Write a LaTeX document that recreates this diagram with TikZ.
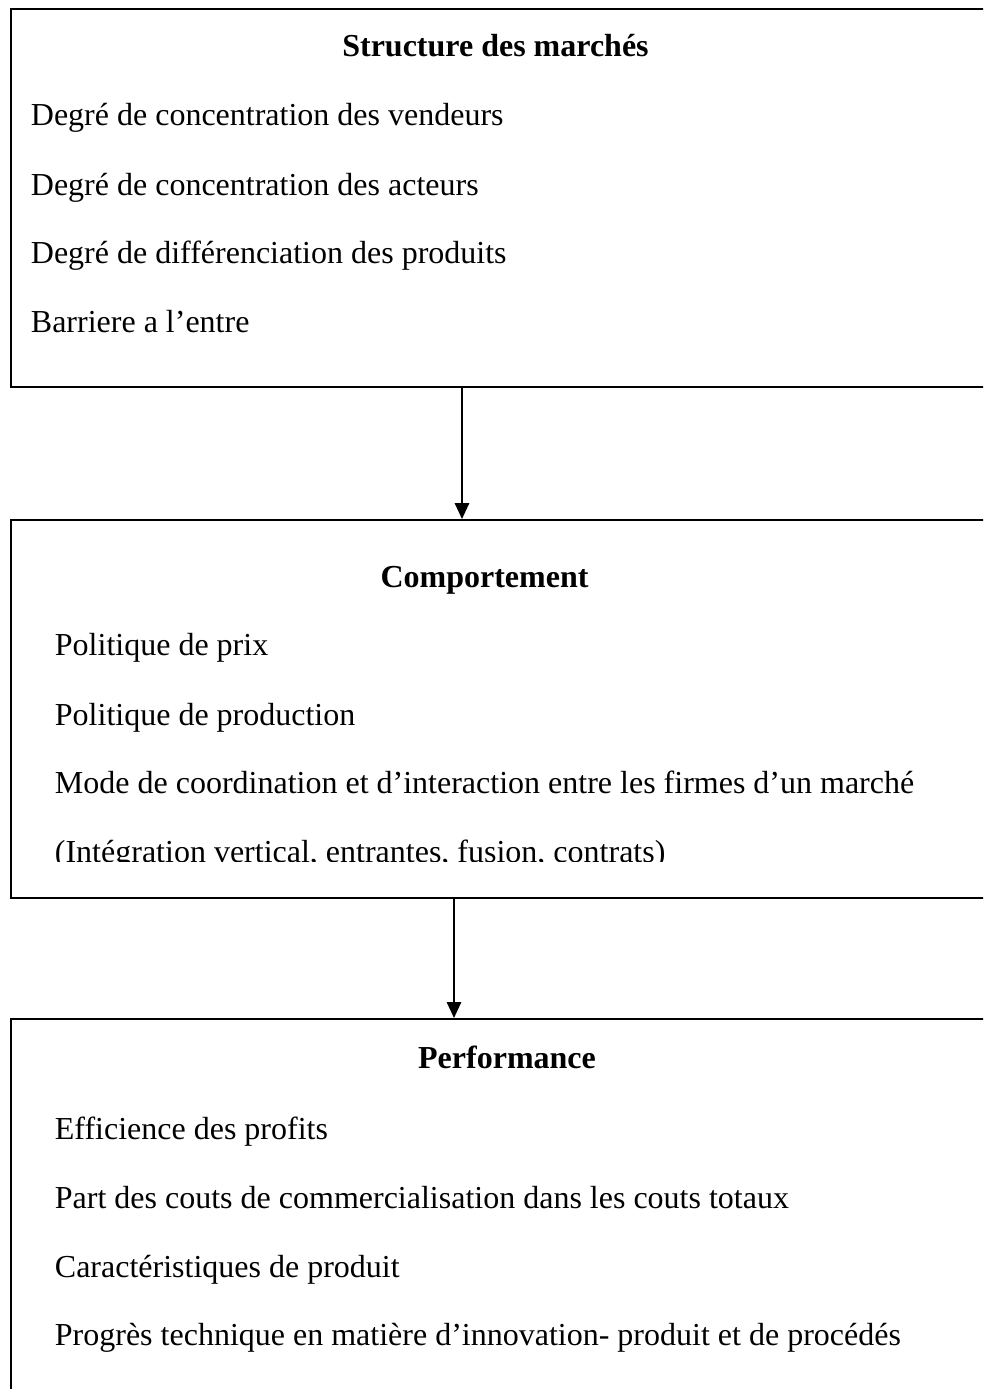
\documentclass[tikz,border=0pt]{standalone}
\usepackage{fontspec}
\setmainfont{Liberation Serif}
\usetikzlibrary{positioning, arrows.meta}

\begin{document}
\begin{tikzpicture}[x=0.375pt, y=-0.375pt, >={Triangle[length=6pt, width=5.4pt]}, line width=0.7pt,
          panel/.style={draw, rectangle, anchor=north west, minimum width=375pt, inner sep=0pt},
          heading/.style={anchor=base, inner sep=0pt, font=\fontsize{12}{14}\selectfont\bfseries},
          item/.style={anchor=base west, inner sep=0pt, font=\fontsize{12}{14}\selectfont}
        ]
        \clip (0,0) rectangle (983,1389);

        % the three boxes
        \node[panel, minimum height=141.75pt] (SM) at (10,8) {};
        \node[panel, minimum height=141.75pt] (CP) at (10,519) {};
        \node[panel, minimum height=150pt]    (PF) at (10,1018) {};

        % Structure des marches
        \node[heading] (SMt) at (495.5,56) {Structure des marchés};
        \node[item] (SM1) at (30,125) {Degré de concentration des vendeurs};
        \node[item] (SM2) at (30,195) {Degré de concentration des acteurs};
        \node[item] (SM3) at (30,263) {Degré de différenciation des produits};
        \node[item] (SM4) at (30,332) {Barriere a l’entre};

        % Comportement
        \node[heading] (CPt) at (484.5,587) {Comportement};
        \node[item] (CP1) at (54,655) {Politique de prix};
        \node[item] (CP2) at (54,725) {Politique de production};
        \node[item] (CP3) at (54,793) {Mode de coordination et d’interaction entre les firmes d’un marché};
        \begin{scope}
          \clip (10,519) rectangle (983,861);
          \node[item] (CP4) at (54,862) {(Intégration vertical, entrantes, fusion, contrats)};
        \end{scope}

        % Performance
        \node[heading] (PFt) at (507,1068) {Performance};
        \node[item] (PF1) at (54,1139) {Efficience des profits};
        \node[item] (PF2) at (54,1208) {Part des couts de commercialisation dans les couts totaux};
        \node[item] (PF3) at (54,1277) {Caractéristiques de produit};
        \node[item] (PF4) at (54,1345) {Progrès technique en matière d’innovation- produit et de procédés};

        \coordinate (a1) at (462,0);
        \coordinate (a2) at (454,0);
        \draw[->] (SM.south -| a1) -- (CP.north -| a1);
        \draw[->] (CP.south -| a2) -- (PF.north -| a2);
      \end{tikzpicture}
\end{document}
